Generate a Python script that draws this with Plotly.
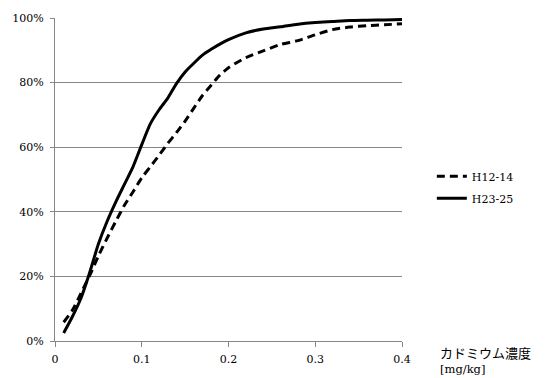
import plotly.graph_objects as go

x_vals = [0.01, 0.02, 0.03, 0.04, 0.05, 0.06, 0.07, 0.08, 0.09, 0.10,
          0.11, 0.12, 0.13, 0.14, 0.15, 0.16, 0.17, 0.18, 0.19, 0.20,
          0.22, 0.24, 0.26, 0.28, 0.30, 0.32, 0.34, 0.36, 0.38, 0.40]

h12_14 = [5.8, 9.5, 14.8, 20.3, 26.3, 31.8, 37.0, 42.0, 46.2, 50.5,
          54.0, 57.5, 61.2, 64.5, 68.1, 72.1, 76.0, 79.2, 82.3, 84.6,
          87.7, 89.8, 91.8, 93.0, 94.8, 96.4, 97.2, 97.6, 97.9, 98.2]

h23_25 = [2.5, 7.5, 13.3, 21.2, 30.0, 37.0, 43.0, 48.5, 54.0, 60.8,
          67.3, 71.6, 75.2, 79.7, 83.3, 86.0, 88.5, 90.3, 91.9, 93.3,
          95.4, 96.6, 97.3, 98.1, 98.6, 98.9, 99.2, 99.3, 99.4, 99.5]

series_names = ["H12-14", "H23-25"]
x_ticks = [0, 0.1, 0.2, 0.3, 0.4]
x_tick_labels = ["0", "0.1", "0.2", "0.3", "0.4"]
y_ticks = [0, 20, 40, 60, 80, 100]
y_tick_labels = ["0%", "20%", "40%", "60%", "80%", "100%"]
axis_title_lines = ["カドミウム濃度", "[mg/kg]"]

fig = go.Figure()
fig.add_trace(go.Scatter(
    x=x_vals, y=h12_14, name=series_names[0], mode="lines", legendgroup="a",
    line=dict(color="black", width=3, dash="8px,5px", shape="spline", smoothing=0.7),
))
fig.add_trace(go.Scatter(
    x=x_vals, y=h23_25, name=series_names[1], mode="lines", legendgroup="b",
    line=dict(color="black", width=3, shape="spline", smoothing=0.7),
))

font_family = "DejaVu Serif, Liberation Serif, serif"

fig.update_layout(
    width=546, height=378,
    margin=dict(l=54, r=144, t=14, b=34),
    paper_bgcolor="white", plot_bgcolor="white",
    font=dict(family=font_family, size=11, color="black"),
    showlegend=True,
    legend=dict(
        x=1.086, y=0.555, xanchor="left", yanchor="top",
        font=dict(family=font_family, size=11, color="black"),
        bgcolor="rgba(0,0,0,0)", tracegroupgap=3,
    ),
    xaxis=dict(
        range=[0, 0.4], tickvals=x_ticks, ticktext=x_tick_labels,
        showgrid=False, zeroline=False,
        showline=True, linecolor="#868686", linewidth=1,
        ticks="outside", ticklen=5, tickcolor="#868686",
        ticklabelstandoff=3,
        tickfont=dict(family=font_family, size=11, color="black"),
        fixedrange=True,
    ),
    yaxis=dict(
        range=[0, 100], tickvals=y_ticks, ticktext=y_tick_labels,
        showgrid=True, gridcolor="#868686", gridwidth=1,
        zeroline=False,
        showline=True, linecolor="#868686", linewidth=1,
        ticks="outside", ticklen=4, tickcolor="#868686",
        ticklabelstandoff=4,
        tickfont=dict(family=font_family, size=11, color="black"),
        fixedrange=True,
    ),
    annotations=[
        dict(
            text=axis_title_lines[0], xref="paper", yref="paper",
            x=1.105, y=0, xanchor="left", yanchor="top", yshift=0,
            showarrow=False, align="left",
            font=dict(family="Noto Sans CJK JP", size=13, color="black"),
        ),
        dict(
            text=axis_title_lines[1], xref="paper", yref="paper",
            x=1.105, y=0, xanchor="left", yanchor="top", yshift=-19,
            showarrow=False, align="left",
            font=dict(family=font_family, size=11.5, color="black"),
        ),
    ],
)

fig.write_html("out.html")
